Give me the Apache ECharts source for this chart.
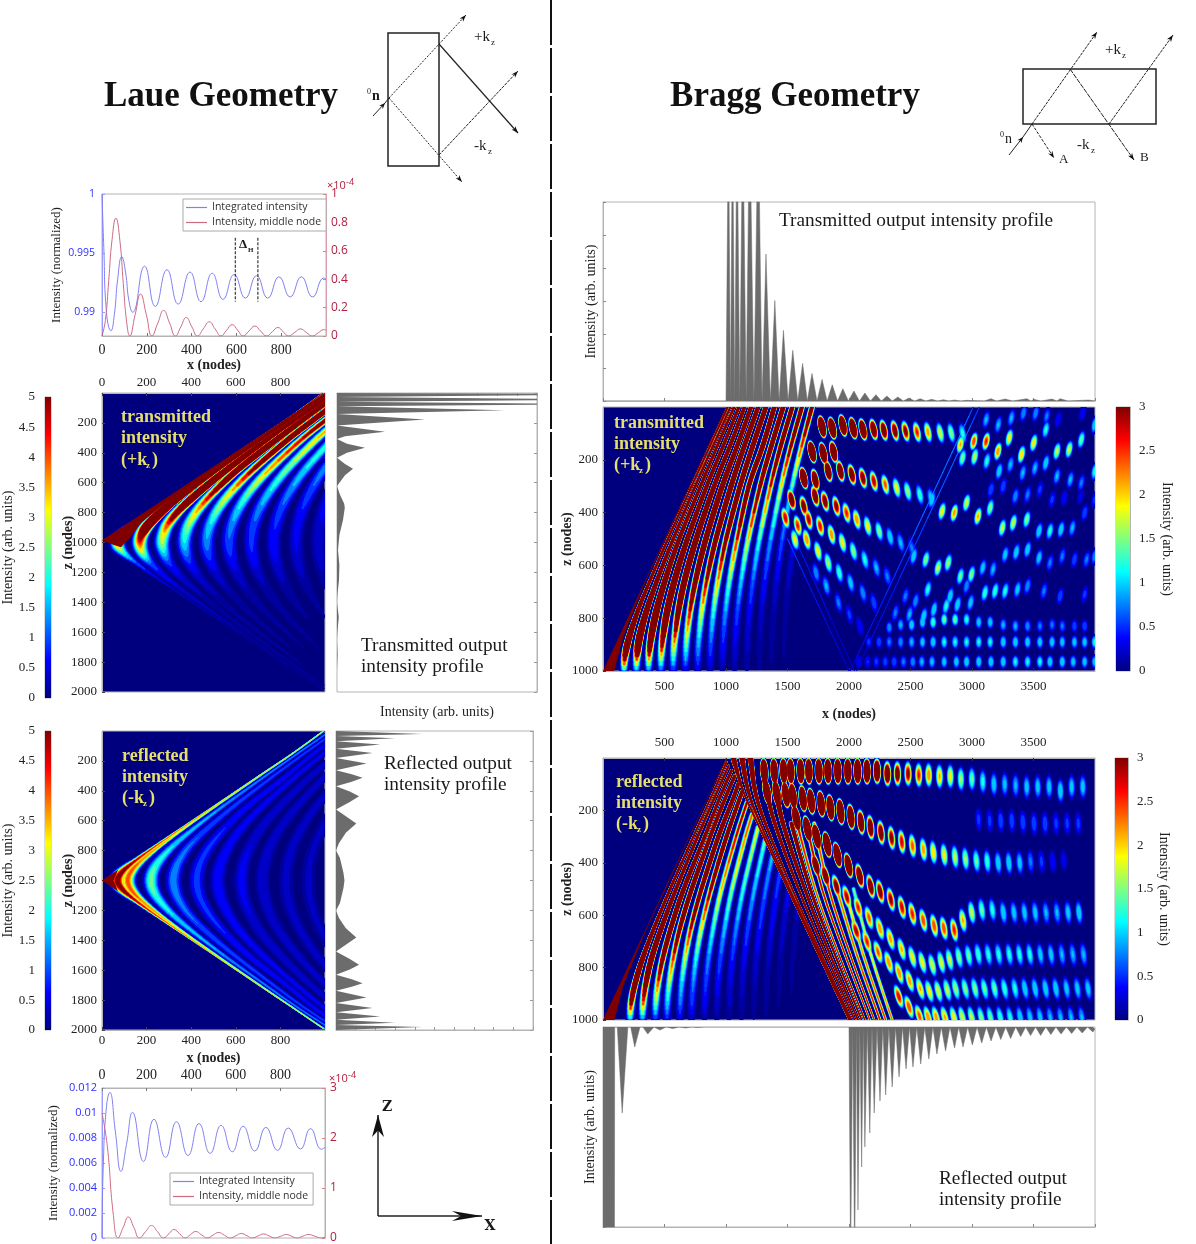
<!DOCTYPE html>
<html><head><meta charset="utf-8">
<style>html,body{margin:0;padding:0;background:#fff}#c{width:1196px;height:1244px}</style>
<script src="https://cdn.jsdelivr.net/npm/echarts@6/dist/echarts.min.js"></script>
</head><body><div id="c"></div>
<script>
// ---------- line charts ----------
const topBlue=[[0,1],[8,0.9955],[20,0.99],[40,0.98845],[55,0.9898],[70,0.9928],[88,0.9947],[105,0.9934],[120,0.991],[137,0.99],[190,0.9939],[238,0.9905],[290,0.9936],[340,0.9907],[393,0.9934],[442,0.9909],[492,0.9933],[540,0.9911],[590,0.9932],[640,0.9912],[690,0.9931],[740,0.9912],[790,0.993],[840,0.9913],[890,0.993],[940,0.9913],[990,0.9929],[1000,0.9928]];
const topRed=[[0,0],[15,0.11],[30,0.39],[45,0.68],[62,0.83],[80,0.67],[95,0.37],[110,0.1],[124,0],[148,0.15],[172,0.295],[198,0.15],[223,0],[249,0.09],[275,0.18],[302,0.09],[328,0],[352,0.065],[376,0.13],[401,0.065],[426,0],[452,0.05],[479,0.1],[505,0.05],[531,0],[556,0.04],[581,0.08],[606,0.04],[630,0],[656,0.035],[682,0.07],[708,0.035],[735,0],[760,0.03],[785,0.06],[809,0.03],[833,0],[860,0.025],[886,0.05],[912,0.025],[939,0],[965,0.022],[990,0.045],[1000,0.04]];
const deltaLeft=[[595,0.9963],[595,0.9909]];
const deltaRight=[[696,0.9963],[696,0.9909]];
const botBlue=[[0,0],[6,0.006],[20,0.0105],[35,0.01165],[60,0.0085],[85,0.00533],[110,0.0075],[137,0.01005],[186,0.00613],[233,0.0095],[285,0.00645],[334,0.0093],[386,0.0066],[435,0.00915],[485,0.00677],[534,0.00901],[584,0.0069],[633,0.00893],[685,0.00696],[735,0.00885],[787,0.00701],[835,0.0088],[890,0.00712],[935,0.00875],[984,0.0071],[1000,0.00725]];
const botRed=[[0,2.5],[24,1.83],[50,0.5],[72,0],[95,0.21],[118,0.42],[143,0.21],[168,0],[195,0.125],[222,0.25],[249,0.125],[276,0],[300,0.085],[323,0.17],[348,0.085],[373,0],[396,0.065],[420,0.13],[446,0.065],[472,0],[497,0.055],[523,0.11],[549,0.055],[575,0],[600,0.045],[625,0.09],[650,0.045],[674,0],[699,0.04],[724,0.08],[750,0.04],[775,0],[801,0.035],[827,0.07],[850,0.035],[874,0],[900,0.035],[926,0.07],[955,0.035],[984,0],[1000,0.02]];
// ---------- output profiles ----------
const lauePT=[[0,0],[14,10],[0,27],[14,44],[0,58],[14,75],[0,88],[8.4,115],[0,140],[4.4,178],[0,218],[2.4,260],[0.4,290],[0,307],[0.5,340],[1.4,367],[0.5,400],[0,433],[0.4,475],[0.8,507],[0.4,550],[0,622],[0.15,680],[0.36,740],[0.39,767],[0.3,850],[0.12,950],[0.05,1050],[0.12,1150],[0.1,1250],[0.02,1350],[0,1400],[0.09,1500],[0.02,1600],[0,1650],[0.03,1750],[0,1850],[0,2000]];
const lauePR=[[0,0],[4.4,20],[0,33],[3,49],[0,68],[2.25,91],[0,118],[1.85,147],[0,180],[1.55,218],[0,262],[0.8,290],[1.35,313],[0.8,340],[0,370],[0.7,405],[1.17,436],[0.7,475],[0,525],[0.5,570],[1.03,618],[0.5,680],[0.15,750],[0,800],[0.2,850],[0.38,950],[0.43,1000],[0.38,1050],[0.2,1150],[0,1200],[0.15,1250],[0.5,1320],[1.03,1382],[0.5,1430],[0,1475],[0.7,1525],[1.17,1564],[0.7,1595],[0,1630],[0.8,1660],[1.35,1687],[0.8,1710],[0,1738],[1.55,1782],[0,1820],[1.85,1853],[0,1882],[2.25,1909],[0,1932],[3,1951],[0,1967],[4.4,1980],[0,2000]];
const braggPT=[[0,0],[1000,0],[1020,9],[1036,0],[1053,9],[1071,0],[1089,9],[1112,0],[1136,9],[1164,0],[1192,9],[1227,0],[1262,9],[1293,0],[1325,4.43],[1361,0],[1397,3.03],[1432,0],[1467,2.13],[1505,0],[1543,1.53],[1583,0],[1623,1.13],[1661,0],[1699,0.83],[1740,0],[1781,0.65],[1822,0],[1864,0.49],[1907,0],[1950,0.37],[1995,0],[2040,0.3],[2085,0],[2129,0.24],[2174,0],[2219,0.19],[2263,0],[2308,0.15],[2352,0],[2397,0.12],[2442,0],[2487,0.09],[2533,0],[2579,0.07],[2625,0],[2672,0.05],[2720,0],[2768,0.04],[2813,0],[2858,0.03],[2907,0],[2957,0.02],[3100,0],[3154,0.07],[3200,0],[3270,0.06],[3330,0],[3446,0.07],[3480,0],[3502,0.05],[3560,0],[3651,0.06],[3690,0],[3717,0.07],[3780,0],[3949,0.03],[4000,0]];
const braggPR=[[0,12],[93,12],[95,0],[116,0],[156,4.3],[202,0],[225,0],[258,1],[301,0],[324,0],[364,0.35],[414,0],[463,0.15],[513,0],[566,0.08],[622,0],[672,0.05],[722,0],[771,0.03],[821,0],[2000,0],[2013,12],[2030,0],[2046,12],[2060,0],[2073,9.15],[2088,0],[2103,7],[2116,0],[2129,6],[2149,0],[2169,5.3],[2187,0],[2205,4.3],[2228,0],[2252,3.7],[2275,0],[2298,3.4],[2324,0],[2351,3],[2379,0],[2407,2.5],[2435,0],[2464,2.1],[2492,0],[2520,2],[2551,0],[2583,1.85],[2616,0],[2649,1.6],[2682,0],[2715,1.35],[2750,0],[2785,1.2],[2821,0],[2858,1.05],[2892,0],[2927,1],[2965,0],[3003,0.9],[3041,0],[3079,0.8],[3117,0],[3155,0.7],[3194,0],[3234,0.63],[3274,0],[3314,0.58],[3355,0],[3396,0.48],[3436,0],[3476,0.43],[3517,0],[3558,0.42],[3600,0],[3641,0.38],[3682,0],[3724,0.35],[3767,0],[3810,0.32],[3853,0],[3896,0.3],[3939,0],[3982,0.25],[4000,0.1]];
// ---------- fringe ridges: node positions shared by the panels ----------
const zUp=[1000,940,870,770,650,500,300,150,0];
const zLow=[1000,1060,1130,1230,1350,1500,1700,1850,1990];
const rx70=[70,92,148,240,357,505,703,853,992];
const rx115=[115,130,174,257,368,513,709,858,997];
const rx170=[170,180,214,285,389,528,720,867,1014];
const rx220=[220,228,256,318,414,546,734,878,1024];
const rx270=[270,277,298,355,445,571,750,892,1036];
const rx320=[320,326,345,391,474,594,770,908,1050];
const rx370=[370,375,392,436,509,619,793,927,1066];
const rx425=[425,429,444,483,551,656,827,950,1087];
const rx470=[470,474,488,523,586,686,843,975,1105];
const rx520=[520,523,536,569,625,721,872,996,1127];
const rx570=[570,573,585,614,667,758,903,1030,1151];
const rx625=[625,628,638,666,714,800,938,1062,1179];
const rx670=[670,673,682,708,756,836,969,1089,1204];
const rx720=[720,722,732,755,800,877,1004,1125,1232];
const rx770=[770,772,781,804,846,918,1041,1147,1262];
const rx825=[825,827,835,856,896,963,1082,1194,1300];
const rx870=[870,872,880,900,938,1001,1114,1216,1325];
const rx925=[925,927,934,953,989,1049,1158,1264,1362];
const rx970=[970,972,979,997,1031,1091,1185,1297,1393];
const rx1070=[1070,1072,1078,1094,1126,1181,1277,1367,1465];
const rx1170=[1170,1172,1177,1192,1221,1272,1362,1444,1539];
const rx1270=[1270,1271,1277,1291,1317,1364,1449,1527,1617];
const rx1370=[1370,1371,1376,1389,1414,1457,1538,1614,1699];
const rx1470=[1470,1471,1476,1488,1511,1553];
// Laue transmitted: intensity along each fringe
const ltU70=[7,7,7,7,7,7,7,7,7];
const ltL70=[4,2.5,1.2,0.7,0.5,0.4,0.3,0.25,0.2];
const ltU170=[4.3,6,12,25,30,30,30,30,30];
const ltL170=[4.3,3,1.2,0.7,0.5,0.4,0.3,0.25,0.2];
const ltU270=[2.9,3.4,4.5,7,14,25,30,30,30];
const ltL270=[2.9,2,1,0.55,0.35,0.3,0.25,0.2,0.15];
const ltU370=[2,2.4,2.9,3.8,5.5,10,20,25,25];
const ltL370=[2,1.5,0.9,0.5,0.35,0.25,0.2,0.15,0.12];
const ltU470=[1.5,1.7,2,2.7,3.6,5.5,9,13,14];
const ltL470=[1.5,1.2,0.8,0.45,0.3,0.22,0.15,0.12,0.1];
const ltU570=[1.2,1.3,1.5,2,2.7,3.8,5,6.5,7.3];
const ltL570=[1.2,1,0.75,0.45,0.3,0.2,0.15,0.12,0.1];
const ltU670=[1,1.05,1.2,1.5,2,2.7,3.6,4.2,4.4];
const ltL670=[1,0.9,0.7,0.4,0.3,0.2,0.15,0.1,0.1];
const ltU770=[0.8,0.85,0.95,1.15,1.5,2,2.6,2.8,2.8];
const ltL770=[0.8,0.75,0.6,0.4,0.25,0.15,0.1,0.1,0.1];
const ltU870=[0.65,0.7,0.75,0.9,1.15,1.5,1.7,1.6,1.5];
const ltL870=[0.65,0.6,0.5,0.35,0.2,0.15,0.1,0.08,0.08];
const ltU970=[0.5,0.52,0.58,0.7,0.85,0.9,0.9,0.8,0.7];
const ltL970=[0.5,0.48,0.42,0.3,0.2,0.12,0.08,0.06,0.06];
const ltWedge=[[0,985],[1000,0],[1000,12],[858,150],[709,300],[513,500],[368,650],[257,770],[174,870],[130,960],[85,1032],[50,1015]];
// Laue reflected: both arms carry the same intensity
const lrV70=[5.5,5.5,5,4.5,4.2,4,3.8,3.6,3.6];
const lrV115=[4.2,4.2,4,3.8,3.4,3.2,3,2.8,2.5];
const lrV220=[2.6,2.5,2.3,2,1.8,1.6,1.5,1.5,1.5];
const lrV320=[1.5,1.5,1.4,1.3,1.2,1.2,1.1,1.1,1.1];
const lrV425=[1.05,1.05,1,1,0.9,0.9,0.85,0.85,0.85];
const lrV520=[0.85,0.85,0.8,0.75,0.75,0.7,0.7,0.7,0.7];
const lrV625=[0.7,0.7,0.65,0.6,0.6,0.6,0.6,0.6,0.6];
const lrV720=[0.55,0.55,0.55,0.5,0.5,0.5,0.5,0.5,0.5];
const lrV825=[0.45,0.45,0.45,0.45,0.45,0.45,0.45,0.4,0.4];
const lrV925=[0.4,0.4,0.4,0.4,0.4,0.35,0.35,0.3,0.3];
const lrWedge=[[0,1000],[72,928],[52,1000],[72,1072]];
// Bragg transmitted: fan fringes
const btU170=[0.3,4,15,15,15,15,15,15,15];
const btU270=[0.3,3,12,15,15,15,15,15,15];
const btU370=[0.3,2.6,6,15,15,15,15,15,15];
const btU470=[0.3,2,4,9,15,15,15,15,15];
const btU570=[0.3,1.5,2.6,5,9,15,15,15,15];
const btU670=[0.2,1.1,1.8,3,5,9,15,15,15];
const btU770=[0.2,0.8,1.2,2,3.2,5.5,10,13,15];
const btU870=[0.15,0.55,0.85,1.4,2.3,3.8,7,10,13];
const btU970=[0.1,0.4,0.6,1,1.6,2.8,5,7.5,10];
const btU1070=[0.1,0.3,0.42,0.7,1.15,2,3.8,6,8];
const btU1170=[0.1,0.2,0.3,0.45,0.8,1.4,2.8,4.5,6];
const btU1270=[0.08,0.15,0.2,0.3,0.55,1,2,3.4,5];
const btU1370=[0.05,0.12,0.15,0.2,0.38,0.7,1.4,2.6,4.5];
const btU1470=[0.05,0.1,0.12,0.15,0.25,0.45];
const btWedge=[[0,1000],[1000,0],[1005,0],[855,150],[707,300],[510,500],[357,650],[250,770],[164,870],[120,950],[90,1000]];
const btRayA=[[2000,1000,0.5],[1800,800,0.6],[1600,600,0.8],[1500,500,1]];
const btRayB=[[2045,1000,0.4],[1850,800,0.55],[1660,600,0.7],[1560,500,0.8]];
const btRayC=[[2010,1000,0.5],[2300,710,0.8],[2600,410,1.1],[2900,110,1.2],[3010,0,0.9]];
const btRayD=[[2060,1000,0.4],[2340,720,0.7],[2640,420,1],[2940,120,1.1],[3060,0,0.8]];
// Bragg transmitted: interference lobes, left of the V
const btA0=[[1781,75,8],[1864,80,8],[1700,170,8],[1790,175,7],[1875,170,6]];
const btA1=[[1950,70,7],[2033,80,7],[2113,85,6],[2200,85,4.5],[2283,88,4],[2373,90,3.6],[2460,92,3.2],[2553,95,2.7],[2642,95,2.3],[2742,98,1.9],[2831,98,1.6],[2924,100,1.3]];
const btA2=[[1632,269,7],[1725,275,5],[1831,243,5],[1930,243,4.5],[2023,256,4],[2113,269,3.5],[2202,281,3],[2295,294,2.5],[2387,306,2],[2477,319,1.7],[2576,332,1.4],[2666,344,1.1]];
const btA3=[[1533,351,4],[1632,376,3.5],[1725,338,4],[1805,357,3.5],[1897,376,3.2],[1980,401,2.7],[2063,426,2.4],[2152,451,2],[2245,470,1.6],[2334,492,1.2],[2420,514,1],[2510,533,0.8]];
const btA4=[[1483,420,2.9],[1583,449,2.7],[1672,426,3],[1765,451,2.8],[1858,483,2.4],[1947,514,2],[2036,546,1.6],[2129,578,1.3],[2222,609,1],[2311,641,0.8]];
const btA5=[[1560,502,2],[1656,502,2.4],[1748,546,2],[1831,590,1.7],[1921,628,1.4],[2013,666,1.1],[2113,704,0.9],[2202,741,0.7]];
const btA6=[[1732,628,0.9],[1815,678,1],[1914,741,0.8],[2003,786,0.6],[2089,830,0.5]];
// Bragg transmitted: lobes right of the V
const btB0=[[3115,48,1],[3214,67,1],[3320,42,1],[3419,23,0.9],[3518,23,0.9],[3608,35,0.8],[3700,48,0.5],[3899,23,0.5]];
const btB1=[[2906,142,2.2],[3015,130,2.6],[3115,130,2.7],[3211,168,2.4],[3303,117,2],[3403,180,2.1],[3502,136,2],[3601,86,1.3],[3691,168,1.8],[3790,161,1.8],[3889,124,1.5],[3998,67,1.2]];
const btB2=[[2923,193,1.6],[3022,189,1.8],[3121,205,1.3],[3221,243,1.2],[3313,218,1],[3413,250,1],[3512,231,1],[3601,212,1.2],[3691,262,1],[3800,275,1],[3889,287,0.8],[3998,243,1.3]];
const btB3=[[3154,313,0.7],[3254,300,0.7],[3353,338,0.9],[3452,332,0.8],[3552,313,0.6],[3651,351,0.6],[3750,344,0.5],[3883,338,0.4],[3998,351,0.6]];
const btB4=[[2674,351,1.2],[2757,395,2],[2856,401,2.3],[2956,363,1.9],[3049,414,2.2],[3148,382,1.6],[3247,458,1.8],[3336,439,1.8],[3446,426,1.6],[3545,470,1.2],[3634,470,1.3],[3724,464,1.2],[3816,458,1],[3916,401,0.7]];
const btB5=[[2526,565,1.2],[2625,578,1.6],[2724,609,1.8],[2807,590,1.7],[2906,641,1.5],[2996,634,1.6],[3088,609,1.1],[3171,615,1],[3270,559,1.1],[3360,550,1.2],[3452,540,1.2],[3545,571,1.1],[3634,590,0.8],[3734,565,0.8],[3833,578,0.7],[3932,578,0.8],[3998,565,0.9]];
const btB6=[[2459,716,0.8],[2542,735,0.9],[2641,691,1.3],[2823,716,1.2],[2956,678,0.9],[3105,704,1.4],[3188,697,1.4],[3270,697,1.3],[3370,691,1.1],[3452,678,0.9],[3585,697,0.8],[3717,716,0.7],[3916,710,0.6]];
const btB7=[[2377,779,0.8],[2492,785,1],[2608,792,1.2],[2691,767,1.2],[2790,754,1.3],[2883,748,1.2],[2989,741,1.1]];
const btC1=[[2327,835,0.9],[2420,825,1],[2509,825,1.2],[2598,815,1.2],[2684,815,1.4],[2774,805,1.5],[2863,805,1.5],[2956,805,1.3],[3055,815,1.1],[3148,815,1.1],[3254,825,1],[3353,830,1],[3452,830,0.9],[3552,830,0.8],[3651,825,0.8],[3734,830,0.8],[3833,830,0.7],[3916,830,0.7]];
const btC2=[[2161,890,0.6],[2244,890,0.7],[2327,890,0.8],[2420,890,0.9],[2509,890,1],[2598,890,1.1],[2684,890,1.2],[2774,890,1.25],[2863,890,1.25],[2956,890,1.25],[3055,890,1.25],[3148,890,1.25],[3254,890,1.2],[3353,890,1.2],[3452,890,1.2],[3552,890,1.15],[3651,890,1.15],[3734,890,1.1],[3833,890,1.1],[3916,890,1.1],[3998,890,1.3]];
const btC3=[[2079,965,0.5],[2152,965,0.55],[2222,965,0.6],[2295,965,0.65],[2367,965,0.7],[2443,965,0.8],[2519,965,0.9],[2592,965,1],[2675,965,1.05],[2774,965,1.1],[2873,965,1.15],[2956,965,1.2],[3055,965,1.2],[3154,965,1.2],[3254,965,1.2],[3353,965,1.25],[3452,965,1.25],[3552,965,1.25],[3634,965,1.2],[3734,965,1.2],[3823,965,1.1],[3916,965,1.1],[3998,965,1.1]];
// Bragg reflected: fan inside the triangle
const brF220=[[220,1000,0.5],[228,940,3],[256,870,6],[318,770,13],[414,650,13],[546,500,13],[734,300,13],[878,150,13],[1005,15,13]];
const brF320=[[320,1000,0.4],[326,940,2.4],[345,870,4],[391,770,8],[474,650,13],[594,500,13],[770,300,13],[908,150,13],[1021,30,13]];
const brF425=[[425,1000,0.3],[429,940,1.5],[444,870,2.4],[483,770,4],[551,650,6.5],[656,500,12],[827,300,13],[950,150,13],[1045,48,13]];
const brF520=[[520,1000,0.3],[523,940,1.1],[536,870,1.6],[569,770,2.6],[625,650,4.2],[721,500,7],[872,300,11],[996,150,13],[1070,70,13]];
const brF625=[[625,1000,0.2],[628,940,0.8],[638,870,1.1],[666,770,1.8],[714,650,3],[800,500,4.8],[938,300,9],[1062,150,11],[1098,100,9]];
const brF720=[[720,1000,0.15],[722,940,0.6],[732,870,0.8],[755,770,1.3],[800,650,2],[877,500,3.3],[1004,300,6],[1130,130,7]];
const brF825=[[825,1000,0.1],[827,940,0.45],[835,870,0.6],[856,770,0.9],[896,650,1.4],[963,500,2.1],[1082,300,3],[1170,170,3.2]];
const brF925=[[925,1000,0.1],[934,870,0.45],[953,770,0.7],[989,650,1.1],[1049,500,1.7],[1158,300,2.5],[1214,214,2.6]];
const brF1025=[[1025,1000,0.1],[1033,870,0.35],[1050,770,0.55],[1083,650,0.9],[1140,500,1.4],[1241,300,2],[1263,263,2]];
const brF1125=[[1125,1000,0.1],[1132,870,0.28],[1148,770,0.42],[1178,650,0.7],[1231,500,1.1],[1316,316,1.6]];
const brF1225=[[1225,1000,0.08],[1232,870,0.2],[1246,770,0.32],[1274,650,0.55],[1323,500,0.85],[1375,375,1.1]];
const brF1325=[[1325,1000,0.08],[1331,870,0.15],[1345,770,0.25],[1371,650,0.4],[1416,500,0.62],[1439,439,0.75]];
const brF1425=[[1425,1000,0.05],[1431,870,0.12],[1443,770,0.18],[1467,650,0.3],[1508,508,0.45]];
const brF1525=[[1525,1000,0.05],[1531,870,0.1],[1542,770,0.13],[1581,581,0.25]];
const brWedge=[[0,1000],[1000,0],[1005,5],[855,150],[707,300],[510,500],[357,650],[250,770],[164,870],[120,950],[93,1000]];
// Bragg reflected: hatch running down from the apex
const brH60=[[1060,0,15],[1139,125,15],[1257,250,15],[1504,500,15],[1752,750,15],[2002,1000,15]];
const brH130=[[1130,0,15],[1180,125,15],[1279,250,15],[1517,500,15],[1761,750,15],[2008,1000,15]];
const brH200=[[1200,0,15],[1236,125,15],[1320,250,15],[1539,500,15],[1776,750,15],[2020,1000,15]];
const brH307=[[1307,60,15],[1331,125,15],[1397,250,15],[1590,500,15],[1811,750,15],[2046,1000,15]];
const brH389=[[1408,125,15],[1463,250,15],[1640,500,15],[1845,750,15],[2073,1000,15]];
const brH466=[[1532,250,6],[1685,500,7],[1885,750,5],[2103,1000,4.5]];
const brH524=[[1577,250,3],[1724,500,2.6],[1917,750,3],[2129,1000,3.6]];
const brH605=[[1653,250,3],[1781,500,3],[1968,750,3],[2169,1000,3]];
const brH672=[[1717,250,2.4],[1836,500,2.8],[2009,750,3],[2205,1000,3]];
const brH753=[[1901,500,2.4],[2063,750,2.6],[2252,1000,3]];
const brH827=[[1966,500,2],[2116,750,2.4],[2298,1000,2.8]];
const brH908=[[2037,500,1.6],[2178,750,2],[2351,1000,2.6]];
// Bragg reflected: lobes along the rows
const brR1=[[1311,50,9.5],[1392,50,9.5],[1469,50,9.5],[1526,50,9.5],[1607,50,9.5],[1674,50,9.5],[1755,50,9.5],[1829,50,9.5],[1909,50,9.5],[1991,50,9.5],[2070,50,9.5],[2146,50,8],[2228,50,6],[2312,60,4.5],[2394,60,3.6],[2480,60,3.1],[2567,65,2.7],[2648,65,2.4],[2736,70,2.2],[2824,70,2],[2910,80,1.7],[2999,80,1.5],[3088,90,1.3],[3178,100,1.15],[3266,100,1.05],[3355,105,1],[3445,110,1.1],[3535,110,1.1],[3627,110,1.1],[3719,125,1.2],[3810,110,1.1],[3901,110,1.1]];
const brR2=[[1333,130,9.5],[1412,135,9.5],[1487,140,9.5],[1544,145,9.5],[1625,155,9.5],[1692,165,9.5],[1773,175,9.5],[1849,190,9.5],[1931,205,9],[2015,225,7],[2097,245,5],[2175,265,4.2],[2260,285,3.7],[2346,305,3.2],[2429,320,2.9],[2516,335,2.5],[2605,350,2.3],[2686,360,2.1],[2774,370,2],[2862,378,1.8],[2947,385,1.7],[3036,392,1.5],[3124,395,1.4],[3213,400,1.2],[3300,400,1.2],[3388,400,1.1],[3476,395,0.8],[3565,395,0.6],[3656,395,0.5],[3746,390,0.4]];
const brR3=[[1572,230,9.5],[1662,270,9.5],[1736,300,9.5],[1822,330,9.5],[1906,370,8],[1996,410,6.5],[2087,450,4.5],[2176,490,3.8],[2253,510,3.4],[2340,540,3.1],[2430,570,2.9],[2515,595,2.7],[2604,620,2.6],[2692,640,2.6],[2771,650,2.6],[2855,656,2.7],[2926,620,2.2],[2998,590,1.8],[3080,580,1.5],[3166,580,1.3],[3255,590,1.2],[3341,590,1.1],[3427,590,1.1],[3514,590,1.1],[3602,590,1],[3691,590,1],[3781,590,1.1],[3870,590,1.2]];
const brR4=[[1731,410,4.5],[1809,450,4],[1898,490,3.4],[1982,530,3],[2074,570,2.7],[2163,610,2.5],[2251,650,2.4],[2337,690,2.3],[2428,730,2.2],[2515,760,2],[2596,780,2],[2677,790,1.9],[2750,780,1.9],[2818,770,1.8],[2894,760,1.6],[2973,755,1.5],[3051,750,1.4],[3133,750,1.3],[3217,750,1.3],[3303,750,1.3],[3386,750,1.3],[3470,750,1.3],[3556,750,1.1],[3643,750,1.1],[3731,750,1],[3820,750,1],[3907,750,1]];
const brR5=[[2058,660,3],[2146,700,2.7],[2236,740,2.5],[2323,780,2.4],[2408,820,2.4],[2493,850,2.3],[2579,880,2.2],[2653,890,2],[2726,890,1.9],[2799,885,1.8],[2867,880,1.7],[2945,880,1.6],[3024,880,1.6],[3102,880,1.5],[3183,880,1.5],[3265,880,1.4],[3349,880,1.3],[3430,880,1.2],[3513,880,1.2],[3598,880,1.2],[3682,880,1.2],[3769,880,1.1],[3857,880,1.1],[3944,880,1.1]];
const brR6=[[2404,910,2.8],[2488,950,2.6],[2573,985,2.5],[2643,990,2.4],[2709,990,2.3],[2780,990,2.2],[2853,990,2],[2922,990,1.9],[2997,990,1.8],[3075,990,1.6],[3150,990,1.5],[3230,990,1.4],[3310,990,1.3],[3392,990,1.2],[3472,990,1.1],[3554,990,1.1],[3636,990,1],[3720,990,1],[3806,990,1],[3893,990,1]];
const brR1b=[[3054,235,0.6],[3144,240,0.6],[3234,240,0.7],[3324,240,0.7],[3414,245,0.7],[3504,250,0.7],[3594,250,0.7],[3684,250,0.6],[3774,250,0.6],[3864,250,0.6]];
// ---------- colour-bar maxima ----------
const laueCbarMax=5, braggCbarMax=3;

// ---------- helpers ----------
const SERIF='"Liberation Serif",serif', SANS='"Open Sans",sans-serif';
const jet=t=>{const c=v=>Math.round(255*Math.max(0,Math.min(1,1.5-Math.abs(4*t-v))));return `rgb(${c(3)},${c(2)},${c(1)})`;};
const LEVELS=[0.03,0.07,0.12,0.18,0.25,0.32,0.4,0.48,0.56,0.64,0.72,0.8,0.88,0.96,1];
const COLORS=LEVELS.map(jet);
const grids=[],xAxes=[],yAxes=[],series=[],els=[];
const BORDER='#b4b4b4';
const NM={nameMoveOverlap:false};
function addGrid(l,t,r,b,x,y){
  const i=grids.length;
  grids.push({left:l,top:t,width:r-l,height:b-t,show:true,borderColor:BORDER,borderWidth:1,backgroundColor:x.bg||'transparent',containLabel:false});
  delete x.bg;
  xAxes.push(Object.assign({gridIndex:i},NM,x));
  yAxes.push(Object.assign({gridIndex:i},NM,y));
  return {g:i,x:xAxes.length-1,y:yAxes.length-1};
}
const tick=(c)=>({show:true,inside:true,length:3,lineStyle:{color:c||'#777'}});
const line0=(c)=>({show:true,onZero:false,lineStyle:{color:c||BORDER}});
const lab=(o)=>Object.assign({fontFamily:SERIF,fontSize:13,color:'#222',margin:5,formatter:v=>String(v)},o||{});
function ridge(xs,zs,vs){return vs.map((v,i)=>[xs[i],zs[i],v]);}
function arc(xs,low,up){ // one fringe from its lower arm through the vertex into its upper arm
  const a=ridge(xs,zLow,low).reverse();
  return a.concat(ridge(xs,zUp,up).slice(1));
}
const sin2=(L,v)=>(2/Math.PI)*Math.acos(Math.sqrt(L/v));
function fringes(ax,ridges,o){
  const data=[];
  ridges.forEach(r=>{
    let k=Infinity;r.forEach(p=>{k=Math.min(k,Math.hypot(p[0]-o.ax,p[1]-o.az));});
    const sc=r.map(p=>o.flat?1:Math.min(1,k/Math.max(1,Math.hypot(p[0]-o.ax,p[1]-o.az))));
    for(let i=0;i<r.length-1;i++){
      const p0=r[i-1]||r[i],p3=r[i+2]||r[i+1];
      data.push([r[i][0],r[i][1],r[i][2],r[i+1][0],r[i+1][1],r[i+1][2],sc[i],sc[i+1],p0[0],p0[1],p3[0],p3[1]]);
    }
  });
  series.push({type:'custom',xAxisIndex:ax.x,yAxisIndex:ax.y,clip:true,silent:true,data,
    encode:{x:[0,3],y:[1,4]},
    renderItem(p,api){
      const P1=api.coord([api.value(0),api.value(1)]),P2=api.coord([api.value(3),api.value(4)]);
      const P0=api.coord([api.value(8),api.value(9)]),P3=api.coord([api.value(10),api.value(11)]);
      const v1=api.value(2),v2=api.value(5),s1=api.value(6),s2=api.value(7),n=4,ch=[];
      const cr=(t,i)=>0.5*((2*P1[i])+(P2[i]-P0[i])*t+(2*P0[i]-5*P1[i]+4*P2[i]-P3[i])*t*t+(3*P1[i]-P0[i]-3*P2[i]+P3[i])*t*t*t);
      for(let j=0;j<n;j++){
        const t0=j/n,t1=(j+1)/n,tm=(t0+t1)/2,v=(v1+(v2-v1)*tm)/o.vmax;
        const w=Math.max(o.minW,o.W*(s1+(s2-s1)*tm));
        for(let l=0;l<LEVELS.length;l++){
          if(LEVELS[l]>=v)break;
          ch.push({type:'line',z2:l+1,silent:true,
            shape:{x1:cr(t0,0),y1:cr(t0,1),x2:cr(t1,0),y2:cr(t1,1)},
            style:{stroke:COLORS[l],fill:null,lineWidth:2*w*sin2(LEVELS[l],v),lineCap:'round'}});
        }
      }
      return {type:'group',children:ch};
    }});
}
function lobes(ax,rows,o){
  const data=[].concat(...rows);
  series.push({type:'custom',xAxisIndex:ax.x,yAxisIndex:ax.y,clip:true,silent:true,data,
    encode:{x:0,y:1},
    renderItem(p,api){
      const x=api.value(0),z=api.value(1),v=api.value(2)/o.vmax,c=api.coord([x,z]),ch=[];
      const rot=o.apexX!==undefined?Math.atan((z/Math.max(1,x-o.apexX))*0.47):o.tilt;
      for(let l=0;l<LEVELS.length;l++){
        if(LEVELS[l]>=v)break;
        const q=Math.pow(sin2(LEVELS[l],v),0.7);
        ch.push({type:'ellipse',z2:l+1,silent:true,x:c[0],y:c[1],rotation:rot,
          shape:{cx:0,cy:0,rx:o.b*q,ry:o.a*q},style:{fill:COLORS[l]}});
      }
      return {type:'group',children:ch};
    }});
}
function poly(ax,pts,fill,z2){
  series.push({type:'custom',xAxisIndex:ax.x,yAxisIndex:ax.y,clip:true,silent:true,data:pts,
    encode:{x:0,y:1},
    renderItem(p,api){
      if(p.dataIndex!==0)return null;
      return {type:'polygon',z2:z2,silent:true,shape:{points:pts.map(q=>api.coord(q))},style:{fill}};
    }});
}
function colorbar(l,t,r,b,max,side,nameGap){
  const stops=[];for(let i=0;i<=16;i++)stops.push({offset:i/16,color:jet(1-i/16)});
  const ax=addGrid(l,t,r,b,{type:'category',data:['c'],show:false},
   {type:'value',min:0,max,interval:0.5,position:side,
    axisLine:line0(),axisTick:{show:false},splitLine:{show:false},
    axisLabel:lab({margin:side==='left'?10:9,fontSize:13}),
    name:'Intensity (arb. units)',nameLocation:'middle',nameGap,nameRotate:side==='left'?90:-90,
    nameTextStyle:{fontFamily:SERIF,fontSize:14,color:'#222'}});
  series.push({type:'bar',xAxisIndex:ax.x,yAxisIndex:ax.y,data:[max],barWidth:'100%',silent:true,
    itemStyle:{color:{type:'linear',x:0,y:0,x2:0,y2:1,colorStops:stops}}});
}
function txt(x,y,text,o){els.push({type:'text',z:100,silent:true,x,y,style:Object.assign({text,fontFamily:SERIF,fontSize:19.3,fill:'#1a1a1a',textAlign:'left',textVerticalAlign:'middle'},o||{})});}
function seg(x1,y1,x2,y2,o){els.push({type:'line',z:100,silent:true,shape:{x1,y1,x2,y2},style:Object.assign({stroke:'#222',lineWidth:1,fill:null},o||{})});}
function arrow(x1,y1,x2,y2,o){
  seg(x1,y1,x2,y2,o);
  const a=Math.atan2(y2-y1,x2-x1),L=(o&&o.head)||8,W=(o&&o.headW)||3;
  const bx=x2-L*Math.cos(a),by=y2-L*Math.sin(a);
  els.push({type:'polygon',z:100,silent:true,shape:{points:[[x2,y2],[bx-W*Math.sin(a),by+W*Math.cos(a)],[x2-L*0.7*Math.cos(a),y2-L*0.7*Math.sin(a)],[bx+W*Math.sin(a),by-W*Math.cos(a)]]},style:{fill:'#111'}});
}
function sub(x,y,s,o){ txt(x,y,s,Object.assign({fontSize:9},o||{})); }

// ---------- panel: Laue line chart (top) ----------
const hideMax={showMaxLabel:false};
const BLUE='#2f2fff',CRIM='#b3203f',LB='#8080f2',LR='#cc6c84';
const xTop=addGrid(102,194,326,336,
  {type:'value',min:0,max:1000,interval:200,axisLine:line0(),axisTick:tick(),splitLine:{show:false},
   axisLabel:lab(Object.assign({margin:7,fontSize:14},hideMax)),name:'x (nodes)',nameLocation:'middle',nameGap:22,
   nameTextStyle:{fontFamily:SERIF,fontSize:14,fontWeight:'bold',color:'#222'}},
  {type:'value',min:0.988,max:1,position:'left',axisLine:line0('#9b9bff'),splitLine:{show:false},
   axisTick:{show:true,inside:true,length:3,customValues:[0.99,0.995,1],lineStyle:{color:'#9b9bff'}},
   axisLabel:{customValues:[0.99,0.995,1],fontFamily:SANS,fontSize:10.5,color:BLUE,margin:7,formatter:v=>String(v)},
   name:'Intensity (normalized)',nameLocation:'middle',nameGap:39,nameTextStyle:{fontFamily:SERIF,fontSize:13,color:'#222'}});
yAxes.push(Object.assign({gridIndex:xTop.g,type:'value',min:0,max:1,interval:0.2,position:'right',axisLine:line0('#d8a0ae'),axisTick:tick('#c88'),splitLine:{show:false},
   axisLabel:{fontFamily:SANS,fontSize:12,color:CRIM,margin:5,formatter:v=>String(v)}},NM));
const yTopR=yAxes.length-1;
const lineS=(name,data,c,x,y)=>({type:'line',name,data,xAxisIndex:x,yAxisIndex:y,symbol:'none',smooth:0.5,lineStyle:{color:c,width:1},itemStyle:{color:c},silent:true});
series.push(lineS('Integrated intensity',topBlue,LB,xTop.x,xTop.y));
series.push(lineS('Intensity, middle node',topRed,LR,xTop.x,yTopR));
[deltaLeft,deltaRight].forEach(d=>series.push({type:'line',data:d,xAxisIndex:xTop.x,yAxisIndex:xTop.y,symbol:'none',silent:true,lineStyle:{color:'#111',width:1,type:[3,1.5]}}));

// ---------- panel: Laue transmitted ----------
colorbar(38,397,51,698,laueCbarMax,'left',30);
const heatY=(o)=>Object.assign({type:'value',min:0,max:2000,interval:200,inverse:true,axisLine:line0(),axisTick:tick('#445'),splitLine:{show:false},
   axisLabel:lab({showMinLabel:false}),name:'z (nodes)',nameLocation:'middle',nameGap:27,nameTextStyle:{fontFamily:SERIF,fontSize:14,fontWeight:'bold',color:'#222'}},o||{});
const heatX=(pos,o)=>Object.assign({bg:'#00007f',type:'value',min:0,max:1000,interval:200,position:pos,axisLine:line0(),axisTick:tick('#445'),splitLine:{show:false},
   axisLabel:lab(Object.assign({margin:4},hideMax))},o||{});
const hLT=addGrid(102,393,325,692,heatX('top'),heatY());
fringes(hLT,[arc(rx70,ltL70,ltU70),arc(rx170,ltL170,ltU170),arc(rx270,ltL270,ltU270),arc(rx370,ltL370,ltU370),arc(rx470,ltL470,ltU470),arc(rx570,ltL570,ltU570),arc(rx670,ltL670,ltU670),arc(rx770,ltL770,ltU770),arc(rx870,ltL870,ltU870),arc(rx970,ltL970,ltU970)],{W:11,minW:0.8,vmax:laueCbarMax,ax:0,az:1000});
poly(hLT,ltWedge,jet(1),20);
const profAxis=(o)=>Object.assign({type:'value',min:0,max:10,interval:1,axisLine:line0(),axisTick:tick('#999'),axisLabel:{show:false},splitLine:{show:false}},o||{});
const profZ=()=>({type:'value',min:0,max:2000,interval:200,inverse:true,position:'right',axisLine:line0(),axisTick:tick('#999'),axisLabel:{show:false},splitLine:{show:false}});
const pLT=addGrid(337,393,537,692,profAxis({position:'top',name:'Intensity (arb. units)',nameLocation:'middle',nameGap:-326,nameTextStyle:{fontFamily:SERIF,fontSize:14,color:'#222'}}),profZ());
poly(pLT,lauePT,'#6c6c6c',1);

// ---------- panel: Laue reflected ----------
colorbar(38,731,51,1030,laueCbarMax,'left',30);
const hLR=addGrid(102,731,325,1030,heatX('bottom',{name:'x (nodes)',nameLocation:'middle',nameGap:21,nameTextStyle:{fontFamily:SERIF,fontSize:14,fontWeight:'bold',color:'#222'}}),heatY());
fringes(hLR,[arc(rx70,lrV70,lrV70),arc(rx115,lrV115,lrV115),arc(rx220,lrV220,lrV220),arc(rx320,lrV320,lrV320),arc(rx425,lrV425,lrV425),arc(rx520,lrV520,lrV520),arc(rx625,lrV625,lrV625),arc(rx720,lrV720,lrV720),arc(rx825,lrV825,lrV825),arc(rx925,lrV925,lrV925)],{W:11,minW:0.9,vmax:laueCbarMax,ax:0,az:1000});
poly(hLR,lrWedge,jet(1),20);
const pLR=addGrid(336,731,533,1030,profAxis({position:'bottom'}),profZ());
poly(pLR,lauePR,'#6c6c6c',1);

// ---------- panel: Laue line chart (bottom) ----------
const xBot=addGrid(102,1088,325,1238,
  {type:'value',min:0,max:1000,interval:200,position:'top',axisLine:line0(),axisTick:tick(),splitLine:{show:false},
   axisLabel:lab(Object.assign({margin:6,fontSize:14},hideMax))},
  {type:'value',min:0,max:0.012,interval:0.002,position:'left',axisLine:line0('#9b9bff'),axisTick:tick('#9b9bff'),splitLine:{show:false},
   axisLabel:{fontFamily:SANS,fontSize:11,color:BLUE,margin:5,formatter:v=>String(+v.toFixed(3))},
   name:'Intensity (normalized)',nameLocation:'middle',nameGap:42,nameTextStyle:{fontFamily:SERIF,fontSize:13,color:'#222'}});
yAxes.push(Object.assign({gridIndex:xBot.g,type:'value',min:0,max:3,interval:1,position:'right',axisLine:line0('#d8a0ae'),axisTick:tick('#c88'),splitLine:{show:false},
   axisLabel:{fontFamily:SANS,fontSize:12,color:CRIM,margin:5}},NM));
const yBotR=yAxes.length-1;
series.push(lineS('Integrated Intensity',botBlue,LB,xBot.x,xBot.y));
series.push(lineS('Intensity, middle node',botRed,LR,xBot.x,yBotR));

// ---------- panel: Bragg profile (top) ----------
const bX=(o)=>Object.assign({type:'value',min:0,max:4000,interval:500,axisLine:line0(),axisTick:tick('#888'),splitLine:{show:false},axisLabel:{show:false}},o||{});
const pBT=addGrid(603,202,1095,401,bX({position:'bottom'}),
  {type:'value',min:0,max:6,interval:1,axisLine:line0(),axisTick:tick('#888'),axisLabel:{show:false},splitLine:{show:false},
   name:'Intensity (arb. units)',nameLocation:'middle',nameGap:5,nameTextStyle:{fontFamily:SERIF,fontSize:14,color:'#222'}});
series.push({type:'line',data:braggPT,xAxisIndex:pBT.x,yAxisIndex:pBT.y,symbol:'none',silent:true,lineStyle:{color:'#6c6c6c',width:0.5},areaStyle:{color:'#6c6c6c',opacity:1}});

// ---------- panel: Bragg transmitted ----------
const bzY=()=>({type:'value',min:0,max:1000,interval:200,inverse:true,axisLine:line0(),axisTick:tick('#334'),splitLine:{show:false},
   axisLabel:lab({showMinLabel:false,margin:5}),name:'z (nodes)',nameLocation:'middle',nameGap:29,nameTextStyle:{fontFamily:SERIF,fontSize:14,fontWeight:'bold',color:'#222'}});
const bhX=(pos,o)=>bX(Object.assign({bg:'#00007f',position:pos,axisTick:tick('#334'),axisLabel:lab({show:true,margin:9,showMinLabel:false,showMaxLabel:false})},o||{}));
const hBT=addGrid(603,407,1095,671,bhX('bottom',{name:'x (nodes)',nameLocation:'middle',nameGap:36,nameTextStyle:{fontFamily:SERIF,fontSize:14,fontWeight:'bold',color:'#222'}}),bzY());
const btPairs=[[rx170,btU170],[rx270,btU270],[rx370,btU370],[rx470,btU470],[rx570,btU570],[rx670,btU670],[rx770,btU770],[rx870,btU870],[rx970,btU970],[rx1070,btU1070],[rx1170,btU1170],[rx1270,btU1270],[rx1370,btU1370],[rx1470,btU1470]];
fringes(hBT,btPairs.map(p=>ridge(p[0],zUp,p[1])),{W:6,minW:1.1,vmax:braggCbarMax,ax:0,az:1000});
poly(hBT,btWedge,jet(1),20);
fringes(hBT,[btRayA,btRayB,btRayC,btRayD],{W:0.6,minW:0.6,vmax:braggCbarMax,ax:0,az:1000,flat:true});
lobes(hBT,[btA0,btA1,btA2,btA3,btA4,btA5,btA6],{a:14,b:4.8,tilt:0.2,vmax:braggCbarMax});
lobes(hBT,[btB0,btB1,btB2,btB3,btB4,btB5,btB6,btB7],{a:12,b:4.6,tilt:-0.2,vmax:braggCbarMax});
lobes(hBT,[btC1,btC2,btC3],{a:9,b:4.6,tilt:0,vmax:braggCbarMax});
colorbar(1116,407,1130,671,braggCbarMax,'right',30);

// ---------- panel: Bragg reflected ----------
const hBR=addGrid(603,758,1095,1020,bhX('top',{}),bzY());
fringes(hBR,[brF220,brF320,brF425,brF520,brF625,brF720,brF825,brF925,brF1025,brF1125,brF1225,brF1325,brF1425,brF1525],{W:6,minW:1.1,vmax:braggCbarMax,ax:0,az:1000});
poly(hBR,brWedge,jet(1),20);
fringes(hBR,[brH60,brH130,brH200,brH307,brH389,brH466,brH524,brH605,brH672,brH753,brH827,brH908],{W:3.5,minW:1,vmax:braggCbarMax,ax:1000,az:0});
lobes(hBR,[brR1,brR2,brR3,brR4,brR5,brR6,brR1b],{a:16,b:4.8,apexX:1000,vmax:braggCbarMax});
colorbar(1115,758,1128,1020,braggCbarMax,'right',29);

// ---------- panel: Bragg profile (bottom) ----------
const pBR=addGrid(603,1027,1095,1227,bX({position:'bottom'}),
  {type:'value',min:0,max:10,interval:1,inverse:true,axisLine:line0(),axisTick:tick('#888'),axisLabel:{show:false},splitLine:{show:false},
   name:'Intensity (arb. units)',nameLocation:'middle',nameGap:6,nameTextStyle:{fontFamily:SERIF,fontSize:14,color:'#222'}});
series.push({type:'line',data:braggPR,xAxisIndex:pBR.x,yAxisIndex:pBR.y,symbol:'none',silent:true,lineStyle:{color:'#6c6c6c',width:0.5},areaStyle:{color:'#6c6c6c',opacity:1}});

// ---------- annotations ----------
txt(221,97,'Laue Geometry',{fontSize:35,fontWeight:'bold',textAlign:'center',fill:'#111'});
txt(795,97,'Bragg Geometry',{fontSize:35,fontWeight:'bold',textAlign:'center',fill:'#111'});
seg(551,0,551,1244,{stroke:'#111',lineWidth:2,lineDash:[45,3]});
const YEL={fill:'#e6df6a',fontSize:18,fontWeight:'bold'},YS={fill:'#e6df6a',fontWeight:'bold'};
txt(121,417,'transmitted',YEL);txt(121,438,'intensity',YEL);txt(121,460,'(+k',YEL);sub(146,466,'z',YS);txt(152,460,')',YEL);
txt(122,756,'reflected',YEL);txt(122,777,'intensity',YEL);txt(122,798,'(-k',YEL);sub(143,804,'z',YS);txt(149,798,')',YEL);
txt(614,423,'transmitted',YEL);txt(614,444,'intensity',YEL);txt(614,465,'(+k',YEL);sub(639,471,'z',YS);txt(645,465,')',YEL);
txt(616,782,'reflected',YEL);txt(616,803,'intensity',YEL);txt(616,824,'(-k',YEL);sub(637,830,'z',YS);txt(643,824,')',YEL);
txt(361,646,'Transmitted output');txt(361,667,'intensity profile');
txt(384,764,'Reflected output');txt(384,785,'intensity profile');
txt(779,221,'Transmitted output intensity profile');
txt(939,1179,'Reflected output');txt(939,1200,'intensity profile');
// Delta_H label and axis exponents
txt(239,245,'\u0394',{fontSize:13,fontWeight:'bold'});sub(248,250,'H',{fontSize:7,fontWeight:'bold'});
txt(327,186,'\u00d710',{fontFamily:SANS,fontSize:11,fill:CRIM});sub(346,182,'-4',{fontFamily:SANS,fontSize:9,fill:CRIM});
txt(329,1079,'\u00d710',{fontFamily:SANS,fontSize:11,fill:CRIM});sub(348,1075,'-4',{fontFamily:SANS,fontSize:9,fill:CRIM});
// coordinate arrows
arrow(378,1216,378,1115,{lineWidth:1.5,head:22,headW:6});
arrow(378,1216,482,1216,{lineWidth:1.5,head:30,headW:5});
txt(387,1107,'Z',{fontSize:14,fontWeight:'bold',textAlign:'center',fontFamily:'"DejaVu Serif",serif'});
txt(490,1226,'X',{fontSize:14,fontWeight:'bold',textAlign:'center',fontFamily:'"DejaVu Serif",serif'});
// Laue sketch
els.push({type:'rect',z:100,silent:true,shape:{x:388,y:33,width:51,height:133},style:{fill:null,stroke:'#222',lineWidth:1.5}});
const DOT=[2,1.5];
arrow(373,116,385,103,{head:6,headW:2.5});
seg(385,103,389,98);
arrow(389,98,466,15,{lineDash:DOT,head:7,headW:2.5});
arrow(389,98,462,182,{lineDash:DOT,head:7,headW:2.5});
arrow(439,44,518,133,{lineWidth:1.2,head:7,headW:2.5});
arrow(439,155,518,71,{lineDash:[3,1],head:7,headW:2.5});
txt(474,37,'+k',{fontSize:15});sub(491,43,'z');
txt(474,146,'-k',{fontSize:15});sub(488,152,'z');
sub(367,92,'0',{fontSize:8});txt(372,96,'n',{fontSize:14,fontWeight:'bold'});
// Bragg sketch
els.push({type:'rect',z:100,silent:true,shape:{x:1023,y:69,width:133,height:55},style:{fill:null,stroke:'#222',lineWidth:1.5}});
arrow(1009,155,1023,137,{head:6,headW:2.5});
seg(1023,137,1032,124);
arrow(1032,124,1097,32,{lineDash:[3,1],head:7,headW:2.5});
arrow(1070,69,1134,160,{lineWidth:1,lineDash:[5,1],head:7,headW:2.5});
arrow(1109,124,1173,35,{lineDash:[3,1],head:7,headW:2.5});
arrow(1032,124,1054,158,{lineDash:[3,1.5],head:7,headW:2.5});
txt(1105,50,'+k',{fontSize:15});sub(1122,56,'z');
txt(1077,145,'-k',{fontSize:15});sub(1091,151,'z');
txt(1059,160,'A',{fontSize:13});txt(1140,158,'B',{fontSize:13});
sub(1000,135,'0',{fontSize:8});txt(1005,139,'n',{fontSize:14});

const legendBase={orient:'vertical',backgroundColor:'#fff',borderColor:'#aaa',borderWidth:1,borderRadius:0,icon:'rect',itemWidth:21,itemHeight:1.2,itemGap:4,padding:[3,5,3,3],
  textStyle:{fontFamily:SANS,fontSize:10.5,color:'#333'},selectedMode:false,z:20};
const chart=echarts.init(document.getElementById('c'),null,{renderer:'canvas',width:1196,height:1244});
chart.setOption({animation:false,backgroundColor:'#fff',
  grid:grids,xAxis:xAxes,yAxis:yAxes,series,
  legend:[Object.assign({},legendBase,{left:183,top:199,data:[{name:'Integrated intensity',itemStyle:{color:LB}},{name:'Intensity, middle node',itemStyle:{color:LR}}]}),
          Object.assign({},legendBase,{left:170,top:1173,data:[{name:'Integrated Intensity',itemStyle:{color:LB}},{name:'Intensity, middle node',itemStyle:{color:LR}}]})],
  graphic:{elements:els},tooltip:{show:false}});
</script></body></html>
